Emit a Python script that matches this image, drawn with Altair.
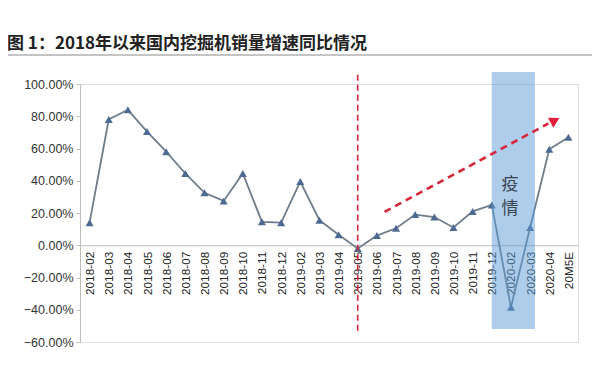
import altair as alt
import pandas as pd

categories = ["2018-02", "2018-03", "2018-04", "2018-05", "2018-06", "2018-07",
              "2018-08", "2018-09", "2018-10", "2018-11", "2018-12",
              "2019-02", "2019-03", "2019-04", "2019-05", "2019-06", "2019-07",
              "2019-08", "2019-09", "2019-10", "2019-11", "2019-12",
              "2020-02", "2020-03", "2020-04", "20M5E"]
values = [14, 78, 84, 70.5, 58, 44.5, 32.5, 27.5, 44.5, 14.5, 14,
          39.5, 15.5, 6.5, -2, 6, 10.5, 19, 17.5, 11, 21, 25,
          -38.5, 11, 59.5, 67]

y_ticks = [-60, -40, -20, 0, 20, 40, 60, 80, 100]
band_x = [21.5, 23.75]
band_y = [-52, 107.5]
vline_x = [14.5]
vline_y = [-53, 106.5]
arrow_x = [15.9, 24.45]
arrow_y = [20.7, 75.5]
arrow_head = [24.8, 77.4]
note_text = "疫\n情"
note_pos = [22.45, 37.3]
title_text = "图 1：2018年以来国内挖掘机销量增速同比情况"

W, H = 498, 258
df = pd.DataFrame({"i": [k + 0.5 for k in range(len(categories))],
                   "cat": categories, "v": values})

label_arr = "[" + ",".join("'%s'" % c for c in categories) + "]"
xscale = alt.Scale(domain=[0, len(categories)], nice=False, zero=False)
yscale = alt.Scale(domain=[-60, 100], nice=False)

xaxis = alt.Axis(
    values=[k + 0.5 for k in range(len(categories))],
    labelExpr=label_arr + "[floor(datum.value)]",
    labelAngle=-90, labelFontSize=11.8, labelColor="#222",
    labelFont="Liberation Sans", ticks=False, grid=False,
    domainColor="#bdbdbd", offset=-H * 60 / 160, title=None,
    labelPadding=6, labelOverlap=False, labelBound=False, labelFlush=False)
yaxis = alt.Axis(
    values=y_ticks, labelExpr="format(datum.value, '.2f') + '%'",
    labelFontSize=12.5, labelColor="#333", labelFont="Liberation Sans",
    grid=False, domainColor="#bdbdbd", tickColor="#bdbdbd", tickSize=4,
    title=None, labelPadding=3, labelOverlap=False, labelBound=False,
    labelFlush=False)


def X(f):
    return alt.X(f, scale=xscale, axis=xaxis, title=None)


def Y(f):
    return alt.Y(f, scale=yscale, axis=yaxis, title=None)


line = alt.Chart(df).mark_line(color="#6e7d8c", strokeWidth=1.8).encode(x=X("i:Q"), y=Y("v:Q"))
pts = alt.Chart(df).mark_point(shape="triangle-up", filled=True, size=65,
                               color="#4d6b92", opacity=1).encode(x=X("i:Q"), y=Y("v:Q"))

band_df = pd.DataFrame({"x1": [band_x[0]], "x2": [band_x[1]],
                        "y1": [band_y[0]], "y2": [band_y[1]]})
band = alt.Chart(band_df).mark_rect(color="#5b9bd5", opacity=0.5, clip=False).encode(
    x=X("x1:Q"), x2="x2:Q", y=Y("y1:Q"), y2="y2:Q")

note = alt.Chart(pd.DataFrame({"x": [note_pos[0]], "y": [note_pos[1]], "t": [note_text]})).mark_text(
    lineBreak="\n", fontSize=17, lineHeight=24, color="#3a4450",
    font="Noto Sans CJK SC").encode(x=X("x:Q"), y=Y("y:Q"), text="t:N")

vline_df = pd.DataFrame({"x": vline_x, "y1": [vline_y[0]], "y2": [vline_y[1]]})
vline = alt.Chart(vline_df).mark_rule(color="#d8263a", strokeDash=[6, 4],
                                      strokeWidth=1.6, clip=False).encode(
    x=X("x:Q"), y=Y("y1:Q"), y2="y2:Q")

arrow_df = pd.DataFrame({"x": [arrow_x[0]], "x2": [arrow_x[1]],
                         "y": [arrow_y[0]], "y2": [arrow_y[1]]})
arrow = alt.Chart(arrow_df).mark_rule(color="#d8263a", strokeDash=[7, 5],
                                      strokeWidth=2.6).encode(
    x=X("x:Q"), x2="x2:Q", y=Y("y:Q"), y2="y2:Q")
head = alt.Chart(pd.DataFrame({"x": [arrow_head[0]], "y": [arrow_head[1]]})).mark_point(
    shape="triangle-up", filled=True, size=130, angle=62, color="#e01f3a",
    opacity=1).encode(x=X("x:Q"), y=Y("y:Q"))

sep = alt.Chart(pd.DataFrame({"a": [0]})).mark_rect(color="#8a8a8a", clip=False).encode(
    x=alt.value(-80), x2=alt.value(520), y=alt.value(-29.6), y2=alt.value(-28.4))

chart = alt.layer(line, pts, band, note, vline, arrow, head, sep).properties(
    width=W, height=H,
    title=alt.TitleParams(title_text, anchor="start", frame="group", dx=-73,
                          fontSize=17, fontWeight="bold", color="#222",
                          font="Noto Sans CJK SC", offset=1),
    autosize=alt.AutoSizeParams(type="none"),
    padding={"left": 72, "top": 76, "right": 14, "bottom": 27},
).configure_view(stroke="#c8c8c8", strokeWidth=1.2).configure(background="white")

chart.save("out.html", embed_options={"renderer": "svg", "actions": False})
